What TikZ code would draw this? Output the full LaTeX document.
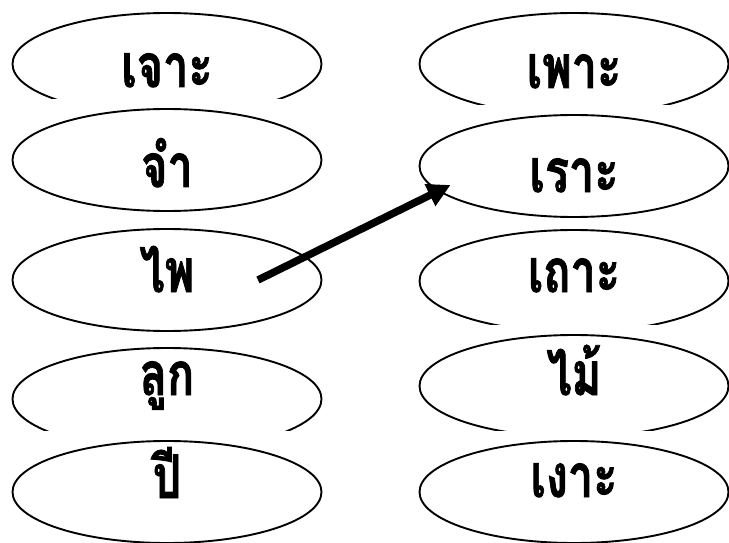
\documentclass[tikz,border=0pt]{standalone}
\usepackage{graphicx}
\usepackage{fontspec}
\newfontfamily\thaifont[Script=Thai, BoldFeatures={FakeBold=1.5}]{Loma}
\usepackage{tikz}
\usetikzlibrary{
    arrows.meta,
    calc,
    shapes.geometric
}

\begin{document}
\begin{tikzpicture}[x=1pt, y=-1pt,
        wordcard/.style={ellipse, draw=black, line width=1.9pt, minimum width=309pt, minimum height=102pt,
            inner sep=0pt, text height=0pt, text depth=0pt,
            font=\thaifont\bfseries\fontsize{60}{70}\selectfont},
        pointer/.style={line width=7.5pt, -{Triangle[length=23pt, width=23pt]}}]
        \useasboundingbox (0,0) rectangle (729,543);

        % Draw word cards, each on its own white paper (it hides the card above)
        \foreach \name/\cx/\cy/\dy/\word in {l1/167/64/23/เจาะ, l2/167/160/27/จำ, l3/167/280/12/ไพ,
                l4/167/399/-4/ลูก, l5/167/492/6/ปี,
                r1/574/64/24/เพาะ, r2/574/166/26/เราะ, r3/574/281/11/เถาะ,
                r4/574/386/9/ไม้, r5/574/492/5/เงาะ}
        {
            \fill[white] (\cx-160, \cy-61) rectangle (\cx+160, \cy+53);
            \node[wordcard] (\name) at (\cx, \cy) {\raisebox{-\dy pt}{\scalebox{0.75}[1]{\word}}};
        }

        % Match arrow
        \coordinate (l3tail) at ($(l3.center)+(91,0)$);
        \coordinate (r2tip) at ($(r2.west)+(32,19)$);
        \draw[pointer] (l3tail) -- (r2tip);
\end{tikzpicture}
\end{document}
